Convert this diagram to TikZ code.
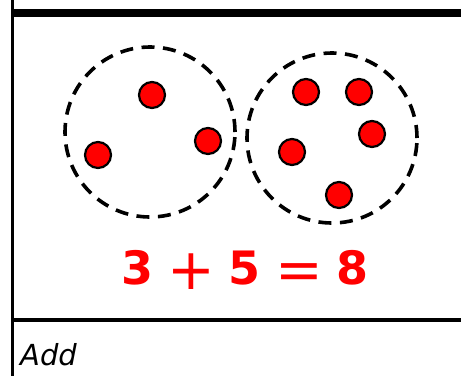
\documentclass[tikz,border=0pt]{standalone}
\usepackage{fontspec}
\setmainfont{DejaVu Sans}
\usepackage{tikz}
\usetikzlibrary{positioning}
\usepackage{xcolor}

\newcommand{\gap}{\hspace{14pt}}
\newcommand{\op}[1]{\raisebox{-5pt}{\fontsize{57}{57}\selectfont\mdseries #1}}

\begin{document}
\begin{tikzpicture}[x=1pt, y=-1pt, every node/.style={inner sep=0pt}]
\tikzset{group/.style={draw, circle, line width=3.6pt, dash pattern=on 13pt off 8.5pt, minimum size=170pt}}
\tikzset{ball/.style={draw, circle, line width=2.2pt, fill=red, minimum size=26pt}}
\useasboundingbox (0,0) rectangle (461,376);
% frame
\coordinate (tl) at (12.5,13); \coordinate (tr) at (461,13);
\coordinate (bl) at (12.5,320); \coordinate (br) at (461,320);
\coordinate (top) at (12.5,0); \coordinate (bot) at (12.5,376);
\draw[line width=3.5pt] (top)--(bot);
\draw[line width=8pt] (tl)--(tr);
\draw[line width=4.5pt] (bl)--(br);
% the two sets
\node[group] (left) at (150,132) {};
\node[group] (right) at (332,138) {};
\node[ball] (a1) at (152,95) {};
\node[ball] (a2) at (98,155) {};
\node[ball] (a3) at (208,141) {};
\node[ball] (b1) at (306,92) {};
\node[ball] (b2) at (359,92) {};
\node[ball] (b3) at (372,134) {};
\node[ball] (b4) at (292,152) {};
\node[ball] (b5) at (339,195) {};
% sum and caption
\node[text=red, font=\fontsize{46}{50}\selectfont\bfseries, anchor=base] (sum) at (245,284) {3\gap\op{+}\gap5\gap\op{=}\gap8};
\node[anchor=base west, font=\fontsize{29}{32}\selectfont\itshape] (cap) at (20,365) {Add};
\end{tikzpicture}
\end{document}
